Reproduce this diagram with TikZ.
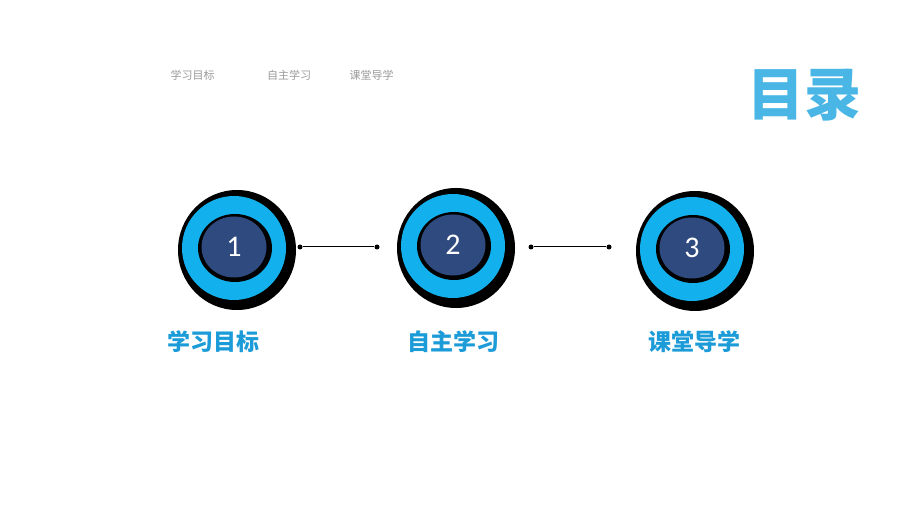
\documentclass[tikz,border=0pt]{standalone}
\usepackage{fontspec}
\setmainfont{Carlito}
\newfontfamily\cjk{Noto Sans CJK SC}
\definecolor{ringblue}{HTML}{12B0EC}
\definecolor{navy}{HTML}{2E4A7E}
\definecolor{lblblue}{HTML}{1B9BD7}
\definecolor{titleblue}{HTML}{4AB6E6}
\definecolor{topgray}{HTML}{9A9A9A}
\tikzset{
  toptxt/.style={font=\cjk\fontsize{11}{13}\selectfont, text=topgray, inner sep=0pt},
  lbl/.style={font=\cjk\bfseries\fontsize{23}{26}\selectfont, text=lblblue, inner sep=0pt},
  num/.style={font=\fontsize{30}{32}\selectfont, text=white, inner sep=0pt},
  dotline/.style={line width=1pt, black},
  enddot/.style={circle, fill=black, inner sep=0pt, minimum size=5pt}
}
\newcommand{\badge}[4]{% name, x, y, number
  \fill[black] (#2+3,#3+2) ellipse (59 and 60);
  \fill[ringblue] (#2,#3) ellipse (52 and 52);
  \fill[black] (#2+1,#3) ellipse (37 and 34);
  \fill[navy] (#2,#3-1) ellipse (32.5 and 30.5);
  \node[num] (#1) at (#2,#3-1) {#4};
}
\begin{document}
\begin{tikzpicture}[x=1pt,y=-1pt]
\useasboundingbox (0,0) rectangle (920,518);
\fill[white] (0,0) rectangle (920,518);
% top small texts
\node[toptxt] (t1) at (192.5,75) {学习目标};
\node[toptxt] (t2) at (289,75) {自主学习};
\node[toptxt] (t3) at (371.5,75) {课堂导学};
% title
\node[font=\cjk\bfseries\fontsize{57}{60}\selectfont, text=titleblue, inner sep=0pt] (title) at (804,95) {目录};
% badges
\badge{n1}{234}{248}{1}
\badge{n2}{453}{246}{2}
\badge{n3}{692}{249}{3}
% connectors
\node[enddot] (a1) at (300,247) {};
\node[enddot] (b1) at (377,247) {};
\node[enddot] (a2) at (531,247) {};
\node[enddot] (b2) at (609,247) {};
\draw[dotline] (a1) -- (b1);
\draw[dotline] (a2) -- (b2);
% labels
\node[lbl] (l1) at (213,342) {学习目标};
\node[lbl] (l2) at (453,342) {自主学习};
\node[lbl] (l3) at (694,342) {课堂导学};
\end{tikzpicture}
\end{document}
